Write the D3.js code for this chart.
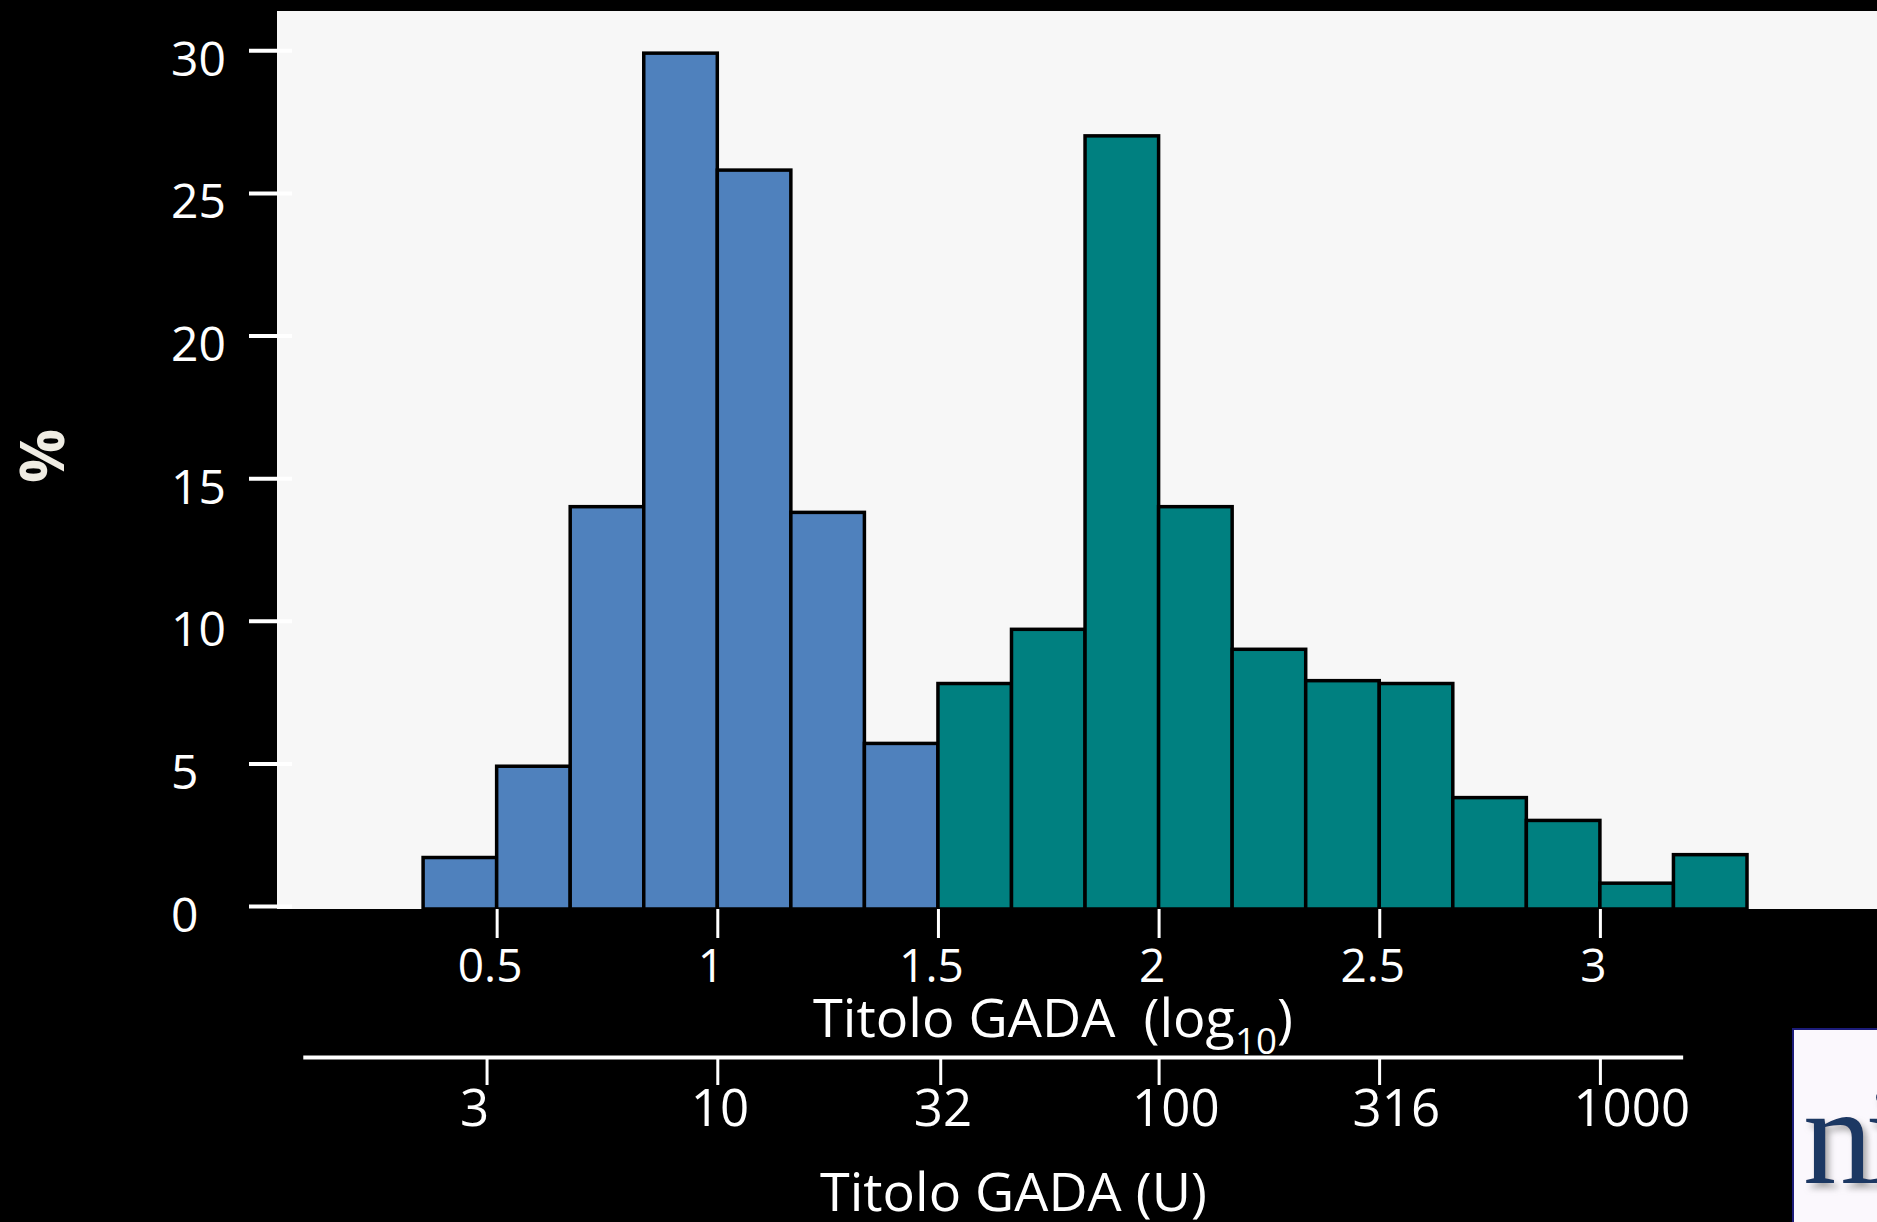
<!DOCTYPE html>
<html>
<head>
<meta charset="utf-8">
<script src="https://cdn.jsdelivr.net/npm/d3@7"></script>
<style>
  html, body { margin: 0; padding: 0; background: #000; }
  svg { display: block; }
  text { font-family: "Open Sans", "Noto Sans", sans-serif; fill: #fff; }
</style>
</head>
<body>
<script>
// GADA titre distribution: percentage of subjects per log10 bin (bin width 1/6)
const binStart = 1 / 3;
const binWidth = 1 / 6;
const lowTitre  = [1.7, 4.9, 14.0, 29.9, 25.8, 13.8, 5.7];                    // 0.33 – 1.5
const highTitre = [7.8, 9.7, 27.0, 14.0, 9.0, 7.9, 7.8, 3.8, 3.0, 0.8, 1.8]; // 1.5 – 3.33
const yTicks    = [0, 5, 10, 15, 20, 25, 30];
const logTicks  = [0.5, 1, 1.5, 2, 2.5, 3];
const unitTicks = [3, 10, 32, 100, 316, 1000];
const unitLineExtent = [1.15, 1540];

const W = 1877, H = 1222;
const colors = { low: "#4f81bd", high: "#008080" };

const bins = lowTitre.map((v, i) => ({ v, group: "low", i }))
  .concat(highTitre.map((v, i) => ({ v, group: "high", i: i + lowTitre.length })))
  .map(d => ({ ...d, x0: binStart + d.i * binWidth, x1: binStart + (d.i + 1) * binWidth }));

const svg = d3.select("body").append("svg").attr("width", W).attr("height", H);
svg.append("rect").attr("width", W).attr("height", H).attr("fill", "#000");

const x = d3.scaleLinear().domain([0, 3.6]).range([276, 276 + 3.6 * 441.3]);
const y = d3.scaleLinear().domain([0, 30]).range([906, 50.3]);
const plotBottom = y(0) + 3;

// plot panel
svg.append("rect")
  .attr("x", x(0) + 1).attr("y", 11)
  .attr("width", W - x(0) - 1).attr("height", plotBottom - 11)
  .attr("fill", "#f7f7f7");

// histogram bars
svg.append("g").selectAll("rect").data(bins).join("rect")
  .attr("x", d => x(d.x0))
  .attr("y", d => y(d.v))
  .attr("width", d => x(d.x1) - x(d.x0))
  .attr("height", d => plotBottom - y(d.v))
  .attr("fill", d => colors[d.group])
  .attr("stroke", "#000")
  .attr("stroke-width", 3.5);

// y axis
const yAxis = svg.append("g").attr("transform", "translate(292,0)")
  .call(d3.axisLeft(y).tickValues(yTicks).tickSize(43).tickPadding(0));
yAxis.select(".domain").remove();
yAxis.selectAll(".tick line").attr("stroke", "#fff").attr("stroke-width", 4);
yAxis.selectAll(".tick text")
  .attr("x", -121).attr("y", 25).attr("dy", null)
  .attr("text-anchor", "start")
  .attr("font-size", 48).attr("font-family", null).attr("fill", "#fff");

// log10 axis
const xAxis = svg.append("g").attr("transform", `translate(0,${plotBottom})`)
  .call(d3.axisBottom(x).tickValues(logTicks).tickSize(29).tickFormat(d3.format("")));
xAxis.select(".domain").remove();
xAxis.selectAll(".tick line").attr("stroke", "#fff").attr("stroke-width", 3);
xAxis.selectAll(".tick text")
  .attr("x", -7).attr("y", 73).attr("dy", null)
  .attr("font-size", 46).attr("font-family", null).attr("fill", "#fff");

// titre axis in units (log spaced, aligned with the log10 axis)
const u = d3.scaleLog().domain(unitLineExtent)
  .range(unitLineExtent.map(v => x(Math.log10(v))));
const uAxis = svg.append("g").attr("transform", "translate(0,1057)")
  .call(d3.axisBottom(u).tickValues(unitTicks).tickSize(28).tickSizeOuter(0).tickFormat(d3.format("d")));
uAxis.select(".domain").attr("stroke", "#fff").attr("stroke-width", 4);
uAxis.selectAll(".tick line").attr("stroke", "#fff").attr("stroke-width", 3);
uAxis.selectAll(".tick text")
  .attr("x", -27).attr("y", 69).attr("dy", null)
  .attr("text-anchor", "start")
  .attr("font-size", 51).attr("font-family", null).attr("fill", "#fff");

// axis titles
function fitText(sel, left, baseline, width) {
  const w = sel.node().getBBox().width;
  sel.attr("transform", `translate(${left},${baseline}) scale(${width / w},1)`);
}
const t1 = svg.append("text").attr("font-size", 53);
t1.append("tspan").text("Titolo GADA\u00a0\u00a0(log");
t1.append("tspan").attr("font-size", 36).attr("dy", 17).text("10");
t1.append("tspan").attr("dy", -17).text(")");
fitText(t1, 813, 1037, 480);

const t2 = svg.append("text").attr("font-size", 53).text("Titolo GADA (U)");
fitText(t2, 820, 1211, 387);

svg.append("text")
  .attr("transform", "translate(42,456) rotate(-90)")
  .attr("text-anchor", "middle").attr("dy", "0.36em")
  .attr("font-size", 60).attr("font-weight", 700)
  .style("fill", "#efece3")
  .text("%");

// publisher badge
const defs = svg.append("defs");
const sh = defs.append("filter").attr("id", "shadow").attr("x", "-20%").attr("y", "-20%").attr("width", "160%").attr("height", "160%");
sh.append("feDropShadow").attr("dx", 4).attr("dy", 5).attr("stdDeviation", 3)
  .attr("flood-color", "#888").attr("flood-opacity", 0.7);
svg.append("rect").attr("x", 1793).attr("y", 1029).attr("width", 100).attr("height", 200)
  .attr("fill", "#fbf8fd").attr("stroke", "#1c1c7a").attr("stroke-width", 2);
svg.append("text").attr("x", 1803).attr("y", 1183)
  .attr("font-size", 140).attr("letter-spacing", -8)
  .style("font-family", "'Liberation Serif', 'DejaVu Serif', serif")
  .style("fill", "#1f3864")
  .attr("filter", "url(#shadow)")
  .text("ni");
</script>
</body>
</html>
